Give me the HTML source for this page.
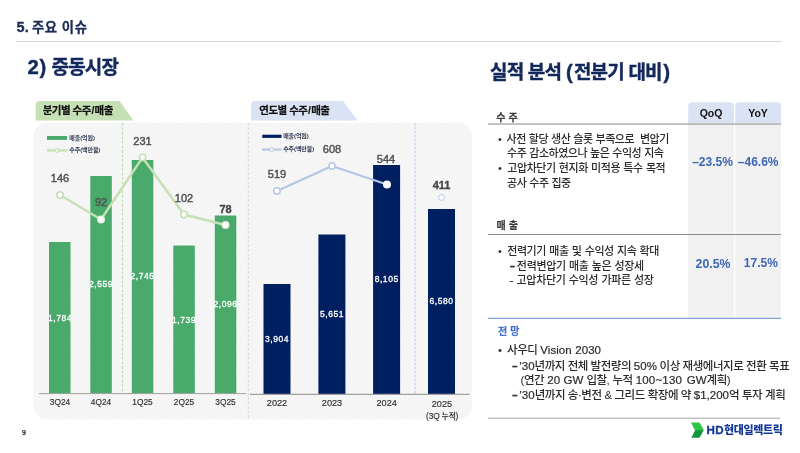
<!DOCTYPE html>
<html lang="ko">
<head>
<meta charset="utf-8">
<title>5. 주요 이슈 - 중동시장</title>
<style>
*{margin:0;padding:0;box-sizing:border-box}
html,body{width:800px;height:453px;overflow:hidden;background:#fff}
body{position:relative;font-family:"Liberation Sans","Noto Sans CJK KR",sans-serif;color:#333}
.a{position:absolute;white-space:nowrap;line-height:1}
.hdr{left:16.6px;top:17.2px;font-size:13.3px;font-weight:700;color:#1a2b57;line-height:20px;letter-spacing:.6px;-webkit-text-stroke:.3px #1a2b57}
.rule{left:16px;top:40.8px;width:766px;height:1px;background:#d2d2d2}
.t1{left:27.5px;top:53.1px;font-size:19px;font-weight:700;color:#13295c;line-height:28px;letter-spacing:0px;-webkit-text-stroke:.4px #13295c}
.t2{left:490px;top:57.9px;font-size:19px;font-weight:700;color:#13295c;line-height:28px;letter-spacing:-.8px;-webkit-text-stroke:.4px #13295c}
.tabtxt{font-size:10.5px;font-weight:700;color:#111;line-height:19px;top:100.7px;letter-spacing:-.5px;-webkit-text-stroke:.2px #111}
.bv{font-size:8.5px;font-weight:400;color:#fff;letter-spacing:.55px;-webkit-text-stroke:.3px #fff;text-align:center;width:40px;margin-left:-20px;line-height:10px}
.xl{font-size:8.3px;color:#2e2e2e;-webkit-text-stroke:.15px #2e2e2e;text-align:center;width:40px;margin-left:-20px;line-height:10px}
.xl.r{font-size:9.2px}
.lv{font-size:11px;color:#525252;text-align:center;width:40px;margin-left:-20px;line-height:12px;-webkit-text-stroke:.45px #525252}
.lv.b{font-weight:700;color:#444;-webkit-text-stroke:.35px #444}
.lg{font-size:6px;font-weight:700;color:#353a55;line-height:8px;letter-spacing:-.1px}
.sec{font-size:10px;font-weight:700;color:#3d3d3d;line-height:12px;word-spacing:.3px;-webkit-text-stroke:.2px #3d3d3d}
.tx{font-size:11px;font-weight:500;color:#2b2b2b;line-height:14.7px;letter-spacing:-.46px;word-spacing:.3px}
.tx b{-webkit-text-stroke:.4px #262626;display:inline-block;transform:scaleX(.8);transform-origin:100% 50%}
.l{letter-spacing:0;-webkit-text-stroke:.2px #2b2b2b}
.t3{font-size:11.5px}
.pc{font-size:12px;font-weight:700;color:#3c66b4;text-align:center;line-height:14px}
.hc{font-size:10.5px;font-weight:700;color:#111;text-align:center;line-height:20px}
</style>
</head>
<body>
<div class="a hdr"><span style="font-size:14.5px;letter-spacing:.2px">5.</span><span style="margin-left:-1.5px"> </span>주요 이슈</div>
<div class="a rule"></div>
<div class="a t1"><span style="font-size:20.3px;letter-spacing:.8px">2)</span><span style="letter-spacing:-.85px"> 중동시장</span></div>
<div class="a t2">실적 분석 <span style="font-size:20.5px;letter-spacing:0;margin:0 1.1px 0 .3px">(</span>전분기 대비<span style="font-size:20.5px;letter-spacing:0;margin-left:1.4px">)</span></div>

<svg class="a" style="left:0;top:0" width="800" height="453" viewBox="0 0 800 453">
  <defs>
    <pattern id="hatch" width="3" height="3" patternUnits="userSpaceOnUse">
      <rect width="3" height="3" fill="#eeeeee"/>
      <path d="M-1 1 L1 -1 M-1 4 L4 -1 M2 4 L4 2" stroke="#fdfdfd" stroke-width="1.1" fill="none"/>
    </pattern>
  </defs>
  <!-- chart background -->
  <rect x="33.5" y="122.8" width="438.5" height="296.8" rx="13.5" ry="13.5" fill="url(#hatch)"/>
  <!-- tabs -->
  <path d="M35.7 120.4 V105 Q35.7 100.9 39.8 100.9 H119.6 L133.4 120.4 Z" fill="#c5e0b4"/>
  <path d="M251 120.4 V105 Q251 100.9 255.1 100.9 H343 L357.7 120.4 Z" fill="#dae3f3"/>
  <!-- dashed verticals -->
  <line x1="122.5" y1="123" x2="122.5" y2="394" stroke="#c2dfb3" stroke-width="1.2" stroke-dasharray="3 1.5"/>
  <line x1="248.3" y1="123" x2="248.3" y2="420" stroke="#d6d6d6" stroke-width="1" stroke-dasharray="2.5 2"/>
  <line x1="415" y1="123" x2="415" y2="394" stroke="#b4c7e7" stroke-width="1" stroke-dasharray="2.5 1.5"/>
  <!-- bars left -->
  <g fill="#4aaa6b">
    <rect x="49" y="242" width="21.5" height="151.5"/>
    <rect x="90.3" y="176" width="21.5" height="217.5"/>
    <rect x="131.8" y="160" width="21.5" height="233.5"/>
    <rect x="173.3" y="245.5" width="21.5" height="148"/>
    <rect x="214.8" y="215.5" width="21.5" height="178"/>
  </g>
  <!-- bars right -->
  <g fill="#001f60">
    <rect x="263.5" y="284" width="27" height="110.4"/>
    <rect x="318.4" y="234.5" width="27" height="159.9"/>
    <rect x="373.1" y="165" width="27" height="229.4"/>
    <rect x="428" y="209" width="27" height="185.4"/>
  </g>
  <!-- baselines -->
  <line x1="39" y1="393.6" x2="246" y2="393.6" stroke="#a0a0a0" stroke-width="1"/>
  <line x1="250" y1="394.4" x2="469.5" y2="394.4" stroke="#a0a0a0" stroke-width="1.1"/>
  <!-- legend -->
  <rect x="47" y="136" width="20" height="3.9" fill="#4aaa6b"/>
  <line x1="47" y1="150.4" x2="67" y2="150.4" stroke="#c5e0b4" stroke-width="2.2"/>
  <circle cx="57" cy="150.4" r="2" fill="#eef6e8" stroke="#c5e0b4" stroke-width="1"/>
  <rect x="262.3" y="134.7" width="19.2" height="3.2" fill="#001f60"/>
  <line x1="262" y1="149.6" x2="281.5" y2="149.6" stroke="#b4c7e7" stroke-width="2.1"/>
  <circle cx="271.8" cy="149.6" r="1.9" fill="#fff" stroke="#b4c7e7" stroke-width="1"/>
  <!-- green line -->
  <polyline points="60,195 101,219.5 142.5,157.5 184,214.5 225.5,225" fill="none" stroke="#c5e0b4" stroke-width="2.4" stroke-linejoin="round"/>
  <g fill="#fff" stroke="#c5e0b4" stroke-width="1.6">
    <circle cx="60" cy="195" r="3.2"/><circle cx="101" cy="219.5" r="3.2" stroke="#e3f0db"/><circle cx="142.5" cy="157.5" r="3.2"/><circle cx="184" cy="214.5" r="3.2"/><circle cx="225.5" cy="225" r="3.2" stroke="#e3f0db"/>
  </g>
  <!-- blue line -->
  <polyline points="277,191 332,166 387,184.5" fill="none" stroke="#b4c7e7" stroke-width="2.2" stroke-linejoin="round"/>
  <g fill="#fff" stroke="#b4c7e7" stroke-width="1.5">
    <circle cx="277" cy="191" r="3.2"/><circle cx="332" cy="166" r="3.2"/><circle cx="387" cy="184.5" r="3.3" stroke="#f4f7fc"/>
    <circle cx="441.5" cy="197.5" r="2.9" stroke-width="1"/>
  </g>
  <!-- right panel cells -->
  <path d="M688.2 123.5 V106 Q688.2 102.2 692 102.2 H730.1 Q733.9 102.2 733.9 106 V123.5 Z" fill="#dae3f3"/>
  <path d="M735.3 123.5 V106 Q735.3 102.2 739.1 102.2 H777.2 Q781 102.2 781 106 V123.5 Z" fill="#dae3f3"/>
  <rect x="688.2" y="124" width="45.7" height="194.3" fill="#f1f1f1"/>
  <rect x="735.3" y="124" width="45.7" height="194.3" fill="#f1f1f1"/>
  <rect x="488" y="123.4" width="293" height="1.3" fill="#a3a3a3"/>
  <rect x="488" y="234" width="293" height="1" fill="#8c8c8c"/>
  <rect x="488" y="317.8" width="293" height="1.1" fill="#789ad9"/>
  <rect x="488" y="417.7" width="292.3" height="1" fill="#a6a6a6"/>
  <!-- logo chevron -->
  <path d="M691.3 422.7 H699.5 L703.7 430.2 L699.5 437.7 H691.3 L695.2 430.2 Z" fill="#0f973b"/>
  <path d="M691.3 422.7 H699.5 L703.7 430.2 H695.2 Z" fill="#2ec742"/>
</svg>

<div class="a tabtxt" style="left:42.7px">분기별 수주<span style="margin:0 .6px">/</span>매출</div>
<div class="a tabtxt" style="left:259.3px">연도별 수주<span style="margin:0 .6px">/</span>매출</div>

<div class="a lg" style="left:69.3px;top:133.7px">매출(억원)</div>
<div class="a lg" style="left:69.3px;top:146.3px">수주(백만불)</div>
<div class="a lg" style="left:283.2px;top:131.8px">매출(억원)</div>
<div class="a lg" style="left:283.2px;top:145px">수주(백만불)</div>

<!-- line labels -->
<div class="a lv" style="left:60px;top:172.3px">146</div>
<div class="a lv" style="left:101px;top:196.3px">92</div>
<div class="a lv" style="left:142.5px;top:135px">231</div>
<div class="a lv" style="left:184px;top:192px">102</div>
<div class="a lv b" style="left:225.5px;top:203px">78</div>
<div class="a lv" style="left:277px;top:168px">519</div>
<div class="a lv" style="left:332px;top:143px">608</div>
<div class="a lv" style="left:386px;top:153px">544</div>
<div class="a lv b" style="left:441.5px;top:179px">411</div>

<!-- bar values -->
<div class="a bv" style="left:60px;top:312.5px">1,784</div>
<div class="a bv" style="left:101px;top:278.5px">2,559</div>
<div class="a bv" style="left:142.5px;top:271.3px">2,745</div>
<div class="a bv" style="left:184px;top:314.5px">1,739</div>
<div class="a bv" style="left:225.5px;top:299px">2,096</div>
<div class="a bv" style="left:277px;top:334px">3,904</div>
<div class="a bv" style="left:332px;top:309px">5,651</div>
<div class="a bv" style="left:386.7px;top:274px">8,105</div>
<div class="a bv" style="left:441.6px;top:296px">6,580</div>

<!-- x labels -->
<div class="a xl" style="left:60px;top:396.8px">3Q24</div>
<div class="a xl" style="left:101px;top:396.8px">4Q24</div>
<div class="a xl" style="left:142.5px;top:396.8px">1Q25</div>
<div class="a xl" style="left:184px;top:396.8px">2Q25</div>
<div class="a xl" style="left:225.5px;top:396.8px">3Q25</div>
<div class="a xl r" style="left:277px;top:397.6px">2022</div>
<div class="a xl r" style="left:332px;top:397.6px">2023</div>
<div class="a xl r" style="left:386.7px;top:397.6px">2024</div>
<div class="a xl r" style="left:441.9px;top:398.9px">2025</div>
<div class="a xl" style="left:442.1px;top:410.8px;font-size:8.3px;font-weight:500;letter-spacing:-.1px">(3Q <span style="font-size:7.5px">누적</span>)</div>

<div class="a" style="left:22px;top:428px;font-size:7px;color:#1a1a1a;line-height:9px;-webkit-text-stroke:.25px #1a1a1a">9</div>

<!-- right panel -->
<div class="a sec" style="left:496.2px;top:111.5px">수 주</div>
<div class="a sec" style="left:496.6px;top:220.2px">매 출</div>
<div class="a sec" style="left:498px;top:325.9px;color:#4270cc;-webkit-text-stroke-color:#4270cc">전 망</div>
<div class="a hc" style="left:688px;top:103px;width:46px">QoQ</div>
<div class="a hc" style="left:735px;top:103px;width:46px">YoY</div>

<div class="a tx" style="left:498px;top:131.5px">•<span style="margin-left:-.6px">&nbsp; </span>사전 할당 생산 슬롯 부족으로&nbsp; 변압기</div>
<div class="a tx" style="left:507px;top:146.3px">수주 감소하였으나 높은 수익성 지속</div>
<div class="a tx" style="left:498px;top:161.1px;word-spacing:.65px">•<span style="margin-left:-.6px">&nbsp; </span>고압차단기 현지화 미적용 특수 목적</div>
<div class="a tx" style="left:507px;top:175.9px">공사 수주 집중</div>
<div class="a pc" style="left:689.5px;top:154.7px;width:46px">–23.5%</div>
<div class="a pc" style="left:735.2px;top:154.7px;width:46px">–46.6%</div>

<div class="a tx" style="left:498px;top:244.3px;word-spacing:.5px;letter-spacing:-.4px">•<span style="margin-left:-.6px">&nbsp; </span>전력기기 매출 및 수익성 지속 확대</div>
<div class="a tx" style="left:509.5px;top:258.7px;word-spacing:.4px;letter-spacing:-.32px"><b style="transform-origin:0 50%">–</b><span style="margin-left:-1.6px"> </span>전력변압기 매출 높은 성장세</div>
<div class="a tx" style="left:509.3px;top:272.9px;word-spacing:.5px;letter-spacing:-.32px"><span style="display:inline-block;transform:scaleX(1.35);transform-origin:0 50%">-</span><span style="margin-left:-2.6px">&nbsp; </span>고압차단기 수익성 가파른 성장</div>
<div class="a pc" style="left:690px;top:256.9px;width:46px;font-size:12.3px">20.5%</div>
<div class="a pc" style="left:737.8px;top:255.7px;width:46px">17.5%</div>

<div class="a tx t3" style="left:498px;top:343.4px">•<span style="margin-left:-.6px">&nbsp; </span>사우디<span class="l" style="letter-spacing:.05px;margin-left:-.7px"> Vision 2030</span></div>
<div class="a tx t3" style="left:510.5px;top:358.5px;word-spacing:0px"><b>–</b> <span class="l">’30</span>년까지 전체 발전량의 <span class="l">50%</span> 이상 재생에너지로 전환 목표</div>
<div class="a tx t3" style="left:520.6px;top:373.4px">(연간 <span class="l">20 GW</span> 입찰, 누적 <span class="l" style="letter-spacing:.2px">100~130</span> <span class="l" style="margin-left:1.5px">GW</span>계획)</div>
<div class="a tx t3" style="left:510.5px;top:388.3px;word-spacing:.1px"><b>–</b> <span class="l">’30</span>년까지 송·변전 &amp; 그리드 확장에 약 <span class="l">$1,200</span>억 투자 계획</div>

<div class="a" style="left:706.6px;top:421.4px;font-size:11px;font-weight:900;color:#14389a;line-height:18px;letter-spacing:-.35px"><span style="font-size:11.6px;font-weight:700;letter-spacing:.3px;-webkit-text-stroke:.3px #14389a">HD</span>현대일렉트릭</div>
</body>
</html>
